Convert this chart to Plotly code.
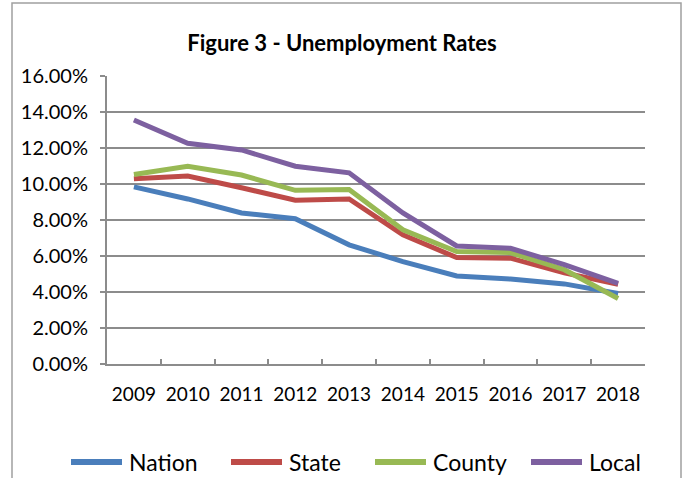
import plotly.graph_objects as go

# Unemployment rates (percent) by year
years = ["2009", "2010", "2011", "2012", "2013", "2014", "2015", "2016", "2017", "2018"]
nation = [9.84, 9.17, 8.39, 8.07, 6.62, 5.69, 4.89, 4.72, 4.45, 3.92]
state = [10.29, 10.44, 9.79, 9.10, 9.17, 7.18, 5.91, 5.88, 5.06, 4.43]
county = [10.53, 10.99, 10.50, 9.65, 9.69, 7.46, 6.25, 6.19, 5.24, 3.64]
local = [13.56, 12.26, 11.89, 10.99, 10.62, 8.39, 6.56, 6.43, 5.52, 4.48]

series_names = ["Nation", "State", "County", "Local"]
series_values = [nation, state, county, local]
colors = ["#4A7EBB", "#BE4B48", "#98B954", "#7D60A0"]

W, H = 684, 478
ML, MR, MT, MB = 107, 39, 76, 114
PW, PH = W - ML - MR, H - MT - MB
FONT = "Lato"
GRID = "#8C8C8C"


def px_x(px):
    return (px - ML) / PW


def px_y(py):
    return (H - MB - py) / PH


fig = go.Figure()
for name, vals, col in zip(series_names, series_values, colors):
    fig.add_trace(go.Scatter(
        x=years, y=[v / 100 for v in vals], name=name, mode="lines",
        line=dict(color=col, width=5), showlegend=False,
    ))

shapes = [
    # chart frame
    dict(type="rect", xref="paper", yref="paper",
         x0=px_x(12), x1=px_x(681), y0=px_y(H + 20), y1=px_y(3),
         line=dict(color="#A0A0A0", width=1.5), fillcolor="rgba(0,0,0,0)",
         layer="below"),
]
annotations = []

# legend row: sample line followed by series name
legend_y = 462
legend_starts = [68, 228, 372, 528]
for name, col, x0 in zip(series_names, colors, legend_starts):
    shapes.append(dict(type="line", xref="paper", yref="paper",
                       x0=px_x(x0 + 3), x1=px_x(x0 + 54), y0=px_y(legend_y), y1=px_y(legend_y),
                       line=dict(color=col, width=6)))
    annotations.append(dict(text=name, xref="paper", yref="paper",
                            x=px_x(x0 + 59), y=px_y(legend_y), xanchor="left", yanchor="middle",
                            showarrow=False, font=dict(family=FONT, size=23, color="#000")))

fig.update_layout(
    width=W, height=H,
    margin=dict(l=ML, r=MR, t=MT, b=MB, pad=0),
    paper_bgcolor="white", plot_bgcolor="white",
    title=dict(text="<b>Figure 3 - Unemployment Rates</b>", x=0.5, xref="container",
               y=1 - 43 / H, yref="container", xanchor="center", yanchor="middle",
               font=dict(family=FONT, size=22, color="#000")),
    shapes=shapes, annotations=annotations,
    xaxis=dict(type="category", range=[-0.5, len(years) - 0.5], tickson="boundaries",
               ticks="inside", ticklen=5, tickwidth=2, tickcolor=GRID, showline=True,
               linecolor=GRID, linewidth=2, showgrid=False, tickangle=0,
               tickfont=dict(family=FONT, size=19, color="#000"), ticklabelstandoff=12),
    yaxis=dict(range=[0, 0.16], dtick=0.02, tickformat=".2%", ticks="outside",
               ticklen=5, tickwidth=2, tickcolor=GRID, showline=True, linecolor=GRID,
               linewidth=2, showgrid=True, gridcolor=GRID, gridwidth=2, zeroline=False,
               tickfont=dict(family=FONT, size=20, color="#000"), ticklabelstandoff=8),
)

fig.write_html("out.html")
